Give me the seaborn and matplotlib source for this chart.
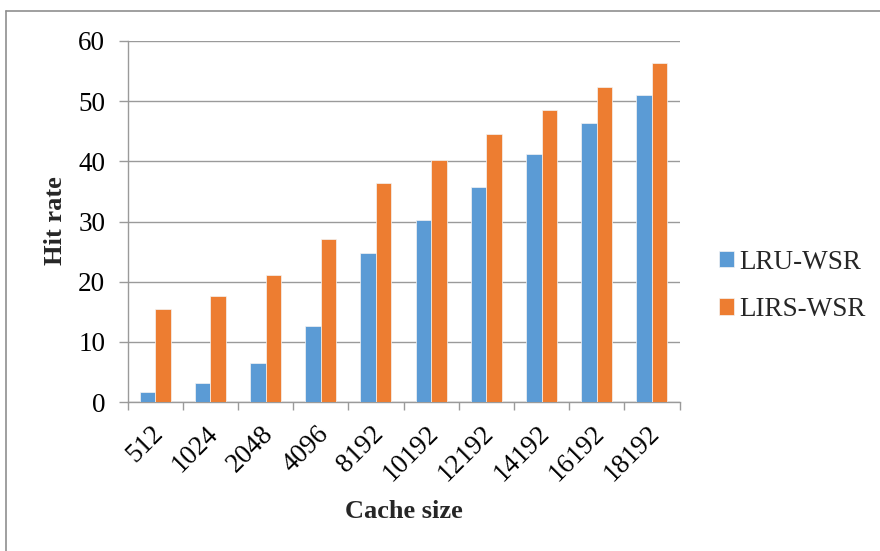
import matplotlib
matplotlib.use("Agg")
import matplotlib.pyplot as plt
from matplotlib.lines import Line2D
from matplotlib.ticker import FixedLocator
from matplotlib.transforms import ScaledTranslation
import seaborn as sns
import pandas as pd

cache_sizes = ["512", "1024", "2048", "4096", "8192", "10192", "12192", "14192", "16192", "18192"]
lru_wsr = [1.7, 3.2, 6.4, 12.7, 24.7, 30.3, 35.8, 41.2, 46.3, 51.1]
lirs_wsr = [15.5, 17.6, 21.1, 27.1, 36.4, 40.3, 44.6, 48.6, 52.3, 56.3]
series_names = ["LRU-WSR", "LIRS-WSR"]
y_ticks = [0, 10, 20, 30, 40, 50, 60]

df = pd.DataFrame({
    "Cache size": cache_sizes * 2,
    "Hit rate": lru_wsr + lirs_wsr,
    "Policy": [series_names[0]] * len(cache_sizes) + [series_names[1]] * len(cache_sizes),
})

sns.set_theme(style="white")
plt.rcParams["font.family"] = ["Liberation Serif", "DejaVu Serif"]

W, H = 880, 551
fig = plt.figure(figsize=(W / 100, H / 100), dpi=100)
ax = fig.add_axes([127.5 / W, 1 - 402 / H, 552 / W, 361 / H])

grid_col = "#9a9a9a"
sns.barplot(data=df, x="Cache size", y="Hit rate", hue="Policy",
            order=cache_sizes, hue_order=series_names,
            palette=["#5b9bd5", "#ed7d31"], width=0.56, gap=0,
            edgecolor="#f4f4f4", linewidth=0.5, saturation=1,
            ax=ax, zorder=3)

ax.set_xlim(-0.5, len(cache_sizes) - 0.5)
ax.set_ylim(0, 60)
ax.set_yticks(y_ticks)
ax.yaxis.grid(True, color=grid_col, linewidth=1.0, zorder=0)
ax.set_axisbelow(True)
for side in ["top", "right"]:
    ax.spines[side].set_visible(False)
for side in ["left", "bottom"]:
    ax.spines[side].set_color(grid_col)
    ax.spines[side].set_linewidth(1.0)

ax.tick_params(axis="y", which="major", direction="out", length=6.5, width=1.0,
               color=grid_col, pad=9.5, labelsize=19.5, labelcolor="black", left=True)
ax.tick_params(axis="x", which="major", length=0, pad=20, labelsize=19.5, labelcolor="black")
ax.xaxis.set_minor_locator(FixedLocator([i - 0.5 for i in range(len(cache_sizes) + 1)]))
ax.tick_params(axis="x", which="minor", direction="out", length=5.8, width=1.0,
               color=grid_col, bottom=True)
shift = ScaledTranslation(4 / 100, 0, fig.dpi_scale_trans)
for lbl in ax.get_xticklabels():
    lbl.set_rotation(45)
    lbl.set_rotation_mode("anchor")
    lbl.set_ha("right")
    lbl.set_va("center")
    lbl.set_transform(lbl.get_transform() + shift)

ax.set_xlabel("")
ax.set_ylabel("")
fig.text(403.5 / W, 1 - 512 / H, "Cache size", ha="center", va="center",
         fontsize=19, fontweight="bold")
fig.text(55.5 / W, 1 - 221 / H, "Hit rate", ha="center", va="center",
         rotation=90, fontsize=19, fontweight="bold")

handles, labels = ax.get_legend_handles_labels()
ax.legend(handles, labels, loc="center left",
          bbox_to_anchor=(719 / W, 1 - 286 / H), bbox_transform=fig.transFigure,
          frameon=False, fontsize=19.5, handlelength=0.55, handleheight=0.55,
          handletextpad=0.2, labelspacing=0.82, borderpad=0, borderaxespad=0)

# outer frame around the chart
frame_kw = dict(color="#8f8f8f", linewidth=1.2, transform=fig.transFigure)
fig.add_artist(Line2D([6 / W, 6 / W], [1 - 11 / H, 0], **frame_kw))
fig.add_artist(Line2D([6 / W, 1], [1 - 11 / H, 1 - 11 / H], **frame_kw))

fig.savefig("out.png", dpi=100)
